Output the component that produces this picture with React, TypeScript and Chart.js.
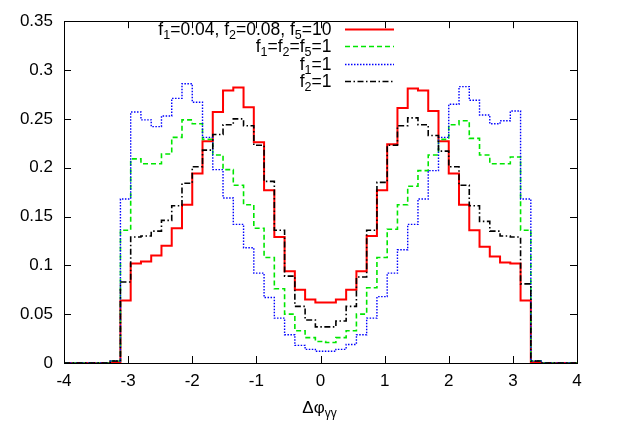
import React, { useEffect, useRef } from "react";
import { Chart, registerables } from "chart.js";

Chart.register(...registerables);

// Histogram bins (left edge of each drawn step), width 0.16
const binWidth = 0.16;
const firstEdge = -3.28;

const redValues = [
  0.001, 0.064, 0.102, 0.104, 0.110, 0.120, 0.138, 0.162, 0.194, 0.227, 0.257,
  0.279, 0.282, 0.262, 0.226, 0.177, 0.129, 0.094, 0.075, 0.065, 0.062,
  0.062, 0.065, 0.075, 0.094, 0.130, 0.177, 0.224, 0.261, 0.281, 0.279,
  0.258, 0.227, 0.194, 0.162, 0.136, 0.119, 0.109, 0.103, 0.102, 0.064, 0.001,
];
const greenValues = [
  0.002, 0.136, 0.209, 0.204, 0.204, 0.214, 0.231, 0.249, 0.245, 0.229, 0.213,
  0.198, 0.182, 0.162, 0.138, 0.108, 0.076, 0.050, 0.033, 0.026, 0.022,
  0.021, 0.026, 0.033, 0.050, 0.077, 0.108, 0.137, 0.162, 0.181, 0.197,
  0.213, 0.229, 0.244, 0.248, 0.230, 0.213, 0.204, 0.204, 0.211, 0.136, 0.002,
];
const blueValues = [
  0.002, 0.168, 0.257, 0.249, 0.242, 0.253, 0.271, 0.286, 0.267, 0.231, 0.198,
  0.169, 0.142, 0.118, 0.092, 0.067, 0.046, 0.029, 0.018, 0.014, 0.012,
  0.012, 0.014, 0.019, 0.029, 0.046, 0.068, 0.092, 0.116, 0.142, 0.168,
  0.197, 0.231, 0.265, 0.283, 0.269, 0.254, 0.245, 0.248, 0.258, 0.168, 0.002,
];
const blackValues = [
  0.002, 0.083, 0.129, 0.130, 0.135, 0.146, 0.161, 0.184, 0.201, 0.218, 0.234,
  0.244, 0.250, 0.243, 0.223, 0.186, 0.136, 0.089, 0.058, 0.044, 0.037,
  0.037, 0.043, 0.058, 0.088, 0.136, 0.185, 0.223, 0.243, 0.251, 0.244,
  0.233, 0.217, 0.201, 0.182, 0.161, 0.145, 0.135, 0.130, 0.129, 0.081, 0.002,
];

const xTicks = [-4, -3, -2, -1, 0, 1, 2, 3, 4];
const yTicks = [0, 0.05, 0.1, 0.15, 0.2, 0.25, 0.3, 0.35];
const yTickLabels = ["0", "0.05", "0.1", "0.15", "0.2", "0.25", "0.3", "0.35"];

// legend labels: [text, isSubscript] pieces
const legendLabels: [string, boolean][][] = [
  [["f", false], ["1", true], ["=0.04, f", false], ["2", true], ["=0.08, f", false], ["5", true], ["=10", false]],
  [["f", false], ["1", true], ["=f", false], ["2", true], ["=f", false], ["5", true], ["=1", false]],
  [["f", false], ["1", true], ["=1", false]],
  [["f", false], ["2", true], ["=1", false]],
];

const FONT = '"Liberation Sans", Arial, Helvetica, sans-serif';
const colors = ["#ff0000", "#00e600", "#0000ff", "#000000"];
const dashes = [[], [5, 3], [1.5, 1.5], [6, 2.5, 1.5, 2.5]];
const widths = [2, 1.6, 1.4, 1.6];

function toPoints(values: number[]) {
  const pts = [{ x: -4, y: 0 }];
  values.forEach((v, i) => {
    pts.push({ x: +(firstEdge + i * binWidth).toFixed(2), y: v });
  });
  pts.push({ x: +(firstEdge + values.length * binWidth).toFixed(2), y: 0 });
  pts.push({ x: 4, y: 0 });
  return pts;
}

const framePlugin = {
  id: "gnuplotFrame",
  afterDraw(chart: any) {
    const { ctx, chartArea } = chart;
    const { left, right, top, bottom } = chartArea;
    const xs = chart.scales.x;
    const ys = chart.scales.y;
    ctx.save();
    ctx.strokeStyle = "#000";
    ctx.lineWidth = 1;
    ctx.setLineDash([]);
    ctx.strokeRect(Math.round(left) + 0.5, Math.round(top) + 0.5, Math.round(right - left), Math.round(bottom - top));
    const tl = 7;
    ctx.beginPath();
    xTicks.forEach((v) => {
      const px = Math.round(xs.getPixelForValue(v)) + 0.5;
      ctx.moveTo(px, bottom);
      ctx.lineTo(px, bottom - tl);
      ctx.moveTo(px, top);
      ctx.lineTo(px, top + tl);
    });
    yTicks.forEach((v) => {
      const py = Math.round(ys.getPixelForValue(v)) + 0.5;
      ctx.moveTo(left, py);
      ctx.lineTo(left + tl, py);
      ctx.moveTo(right, py);
      ctx.lineTo(right - tl, py);
    });
    ctx.stroke();

    // legend
    const mainFont = `17.5px ${FONT}`;
    const subFont = `12.5px ${FONT}`;
    ctx.fillStyle = "#000";
    ctx.textBaseline = "alphabetic";
    ctx.textAlign = "left";
    const textRight = 331.5;
    legendLabels.forEach((parts, i) => {
      const rowY = 28.5 + 17.6 * i;
      let total = 0;
      parts.forEach(([t, sub]) => {
        ctx.font = sub ? subFont : mainFont;
        total += ctx.measureText(t).width;
      });
      let x = textRight - total;
      parts.forEach(([t, sub]) => {
        ctx.font = sub ? subFont : mainFont;
        ctx.fillText(t, x, rowY + 6 + (sub ? 4 : 0));
        x += ctx.measureText(t).width;
      });
      ctx.strokeStyle = colors[i];
      ctx.lineWidth = widths[i];
      ctx.setLineDash(dashes[i]);
      ctx.beginPath();
      ctx.moveTo(345, Math.round(rowY) + 0.5);
      ctx.lineTo(394, Math.round(rowY) + 0.5);
      ctx.stroke();
    });
    ctx.setLineDash([]);

    // x axis title: Δφ with subscript γγ
    ctx.font = `17px ${FONT}`;
    const mainW = ctx.measureText("Δφ").width;
    ctx.font = `12px ${FONT}`;
    const subW = ctx.measureText("γγ").width;
    const cx = (left + right) / 2 - 1;
    const sx = cx - (mainW + subW) / 2;
    ctx.font = `17px ${FONT}`;
    ctx.fillText("Δφ", sx, 413);
    ctx.font = `12px ${FONT}`;
    ctx.fillText("γγ", sx + mainW, 417);
    ctx.restore();
  },
};

export default function App() {
  const canvasRef = useRef<HTMLCanvasElement | null>(null);

  useEffect(() => {
    document.body.style.margin = "0";
    const canvas = canvasRef.current;
    if (!canvas) return;
    const series = [redValues, greenValues, blueValues, blackValues];
    const chart = new Chart(canvas, {
      type: "line",
      data: {
        datasets: series.map((vals, i) => ({
          label: `series${i}`,
          data: toPoints(vals),
          borderColor: colors[i],
          backgroundColor: colors[i],
          borderWidth: widths[i],
          borderDash: dashes[i],
          stepped: "before" as const,
          pointRadius: 0,
          fill: false,
          clip: false as any,
          order: 3 - i,
        })),
      },
      options: {
        responsive: false,
        animation: false,
        devicePixelRatio: 1,
        layout: { padding: { top: 9, right: 51, left: 0, bottom: 0 } },
        plugins: {
          legend: { display: false },
          tooltip: { enabled: false },
          title: { display: false },
        },
        scales: {
          x: {
            type: "linear",
            min: -4,
            max: 4,
            grid: { display: false, drawTicks: false },
            border: { display: false },
            afterBuildTicks: (scale: any) => {
              scale.ticks = xTicks.map((v) => ({ value: v }));
            },
            afterFit: (scale: any) => {
              scale.height = 61;
            },
            ticks: {
              color: "#000",
              font: { family: FONT, size: 17 },
              padding: 8,
              maxRotation: 0,
              autoSkip: false,
              callback: (v: any) => String(v),
            },
          },
          y: {
            type: "linear",
            min: 0,
            max: 0.35,
            grid: { display: false, drawTicks: false },
            border: { display: false },
            afterBuildTicks: (scale: any) => {
              scale.ticks = yTicks.map((v) => ({ value: v }));
            },
            afterFit: (scale: any) => {
              scale.width = 64;
            },
            ticks: {
              color: "#000",
              font: { family: FONT, size: 17 },
              padding: 11,
              autoSkip: false,
              callback: (v: any) => {
                const idx = yTicks.findIndex((t) => Math.abs(t - v) < 1e-9);
                return idx >= 0 ? yTickLabels[idx] : "";
              },
            },
          },
        },
      },
      plugins: [framePlugin],
    });
    return () => chart.destroy();
  }, []);

  return (
    <div style={{ width: 628, height: 424, background: "#fff" }}>
      <canvas ref={canvasRef} width={628} height={424} style={{ display: "block" }} />
    </div>
  );
}
